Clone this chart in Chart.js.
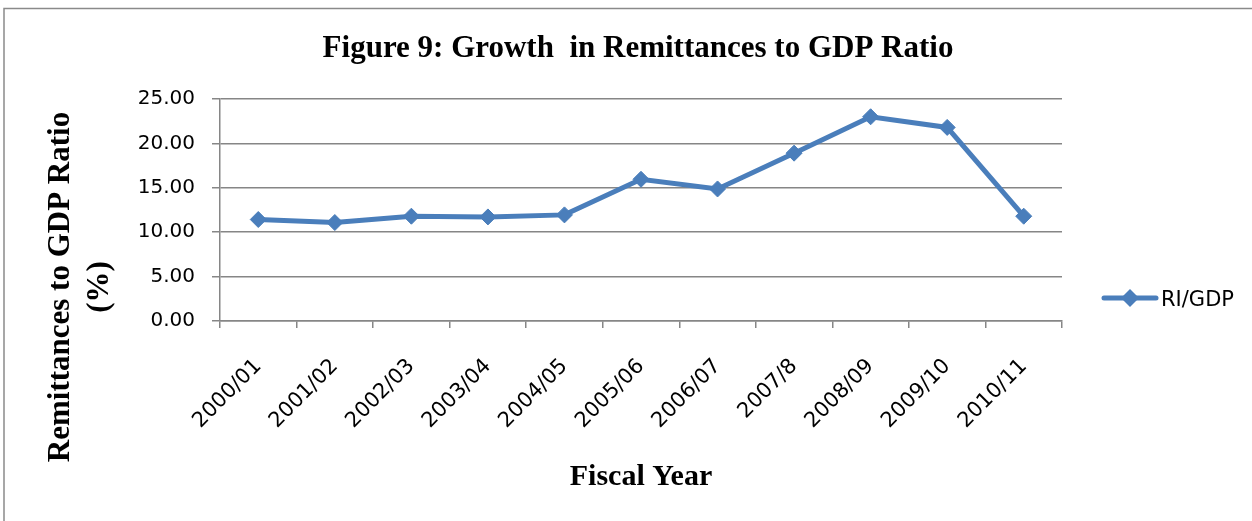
<!DOCTYPE html>
<html>
<head>
<meta charset="utf-8">
<script src="https://cdn.jsdelivr.net/npm/chart.js@4.4.1/dist/chart.umd.min.js"></script>
<style>
  html, body { margin: 0; padding: 0; background: #ffffff; }
  #wrap { position: relative; width: 1252px; height: 521px; }
  canvas { display: block; }
</style>
</head>
<body>
<div id="wrap"><canvas id="c" width="1252" height="521"></canvas></div>
<script>
const chartTitle = 'Figure 9: Growth  in Remittances to GDP Ratio';
const xAxisTitle = 'Fiscal Year';
const yAxisTitle = ['Remittances to GDP Ratio', '(%)'];
const seriesName = 'RI/GDP';
const categories = ['2000/01', '2001/02', '2002/03', '2003/04', '2004/05', '2005/06', '2006/07', '2007/8', '2008/09', '2009/10', '2010/11'];
const riGdp = [11.43, 11.09, 11.80, 11.72, 11.95, 15.96, 14.87, 18.90, 23.00, 21.80, 11.80];
const yMin = 0, yMax = 25, yStep = 5;

const LINE_COLOR = '#4a7ebb';
const GRID_COLOR = '#868686';
const SERIF = '"Liberation Serif", "Times New Roman", serif';
const SANS = '"DejaVu Sans", sans-serif';

const decor = {
  id: 'decor',
  beforeDraw(chart) {
    const ctx = chart.ctx;
    ctx.save();
    ctx.fillStyle = '#ffffff';
    ctx.fillRect(0, 0, chart.width, chart.height);
    ctx.strokeStyle = '#8a8a8a';
    ctx.lineWidth = 1.5;
    ctx.beginPath();
    ctx.moveTo(4, chart.height + 5);
    ctx.lineTo(4, 8.5);
    ctx.lineTo(chart.width + 5, 8.5);
    ctx.stroke();
    ctx.restore();
  },
  afterDraw(chart) {
    const ctx = chart.ctx;
    ctx.save();
    // main title
    ctx.fillStyle = '#000';
    ctx.font = 'bold 31px ' + SERIF;
    ctx.textAlign = 'center';
    ctx.textBaseline = 'middle';
    ctx.fillText(chartTitle, 638, 49);
    // y axis title (two lines)
    ctx.save();
    ctx.translate(61, 287);
    ctx.rotate(-Math.PI / 2);
    ctx.font = 'bold 31px ' + SERIF;
    ctx.fillText(yAxisTitle[0], 0, 0);
    ctx.restore();
    ctx.save();
    ctx.translate(100, 287);
    ctx.rotate(-Math.PI / 2);
    ctx.font = 'bold 31px ' + SERIF;
    ctx.fillText(yAxisTitle[1], 0, 0);
    ctx.restore();
    // legend
    const ds = chart.data.datasets[0];
    const ly = 298;
    ctx.strokeStyle = ds.borderColor;
    ctx.lineWidth = ds.borderWidth;
    ctx.lineCap = 'round';
    ctx.beginPath();
    ctx.moveTo(1104, ly);
    ctx.lineTo(1156, ly);
    ctx.stroke();
    ctx.fillStyle = ds.pointBackgroundColor;
    const r = 9;
    ctx.beginPath();
    ctx.moveTo(1130, ly - r);
    ctx.lineTo(1130 + r, ly);
    ctx.lineTo(1130, ly + r);
    ctx.lineTo(1130 - r, ly);
    ctx.closePath();
    ctx.fill();
    ctx.fillStyle = '#000';
    ctx.font = '21px ' + SANS;
    ctx.textAlign = 'left';
    ctx.textBaseline = 'middle';
    ctx.fillText(ds.label, 1161, 301);
    ctx.restore();
  }
};

new Chart(document.getElementById('c'), {
  type: 'line',
  data: {
    labels: categories,
    datasets: [{
      label: seriesName,
      data: riGdp,
      borderColor: LINE_COLOR,
      backgroundColor: LINE_COLOR,
      pointBackgroundColor: LINE_COLOR,
      pointBorderColor: LINE_COLOR,
      borderWidth: 5,
      pointStyle: 'rectRot',
      pointRadius: 8,
      pointBorderWidth: 1,
      tension: 0,
      fill: false
    }]
  },
  options: {
    responsive: false,
    animation: false,
    events: [],
    layout: { padding: { top: 99, right: 190, bottom: 0, left: 0 } },
    plugins: {
      legend: { display: false },
      title: { display: false },
      tooltip: { enabled: false }
    },
    scales: {
      x: {
        type: 'category',
        offset: true,
        grid: {
          offset: true,
          drawOnChartArea: false,
          drawTicks: true,
          tickLength: 7,
          color: GRID_COLOR,
          lineWidth: 1.5
        },
        border: { display: true, color: GRID_COLOR, width: 1.5 },
        ticks: {
          autoSkip: false,
          minRotation: 45,
          maxRotation: 45,
          padding: 26,
          color: '#000',
          font: { family: SANS, size: 21 }
        },
        title: {
          display: true,
          text: xAxisTitle,
          color: '#000',
          font: { family: SERIF, size: 30, weight: 'bold' },
          padding: { top: 0, bottom: 26 }
        },
        afterFit(scale) { scale.height = 200; }
      },
      y: {
        min: yMin,
        max: yMax,
        grid: {
          color: GRID_COLOR,
          lineWidth: 1.5,
          drawTicks: true,
          tickLength: 8
        },
        border: { display: true, color: GRID_COLOR, width: 1.5 },
        ticks: {
          stepSize: yStep,
          padding: 17,
          color: '#000',
          font: { family: SANS, size: 20 },
          callback: (v) => Number(v).toFixed(2)
        },
        afterFit(scale) { scale.width = 220; }
      }
    }
  },
  plugins: [decor]
});
</script>
</body>
</html>
